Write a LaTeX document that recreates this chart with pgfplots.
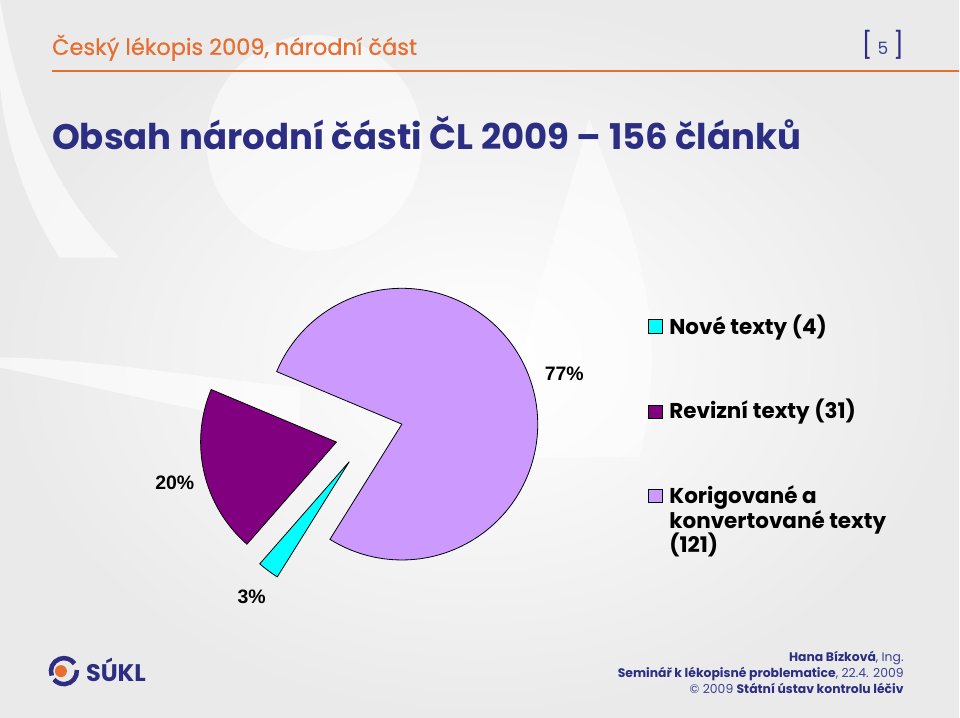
\documentclass[border=0pt]{standalone}
\usepackage{fontspec}
\setmainfont{Poppins}
\newfontfamily\arial{Liberation Sans}
\usepackage{pgfplots}
\usepackage{pgfplotstable}
\pgfplotsset{compat=1.18}

\definecolor{navy}{RGB}{43,46,131}
\definecolor{navylight}{RGB}{60,64,150}
\definecolor{orng}{RGB}{230,110,48}
\definecolor{sCyan}{RGB}{0,255,255}
\definecolor{sPurple}{RGB}{128,0,128}
\definecolor{sLilac}{RGB}{204,153,255}
\definecolor{bggray}{RGB}{234,234,234}

% slice values (number of articles)
\pgfplotstableread{
name value
Nove 4
Revizni 31
Korigovane 121
}\piedata
\pgfplotstablegetelem{0}{value}\of\piedata \let\vA\pgfplotsretval
\pgfplotstablegetelem{1}{value}\of\piedata \let\vB\pgfplotsretval
\pgfplotstablegetelem{2}{value}\of\piedata \let\vC\pgfplotsretval
\pgfmathsetmacro\tot{\vA+\vB+\vC}
\pgfmathsetmacro\aZ{238}
\pgfmathsetmacro\aA{\aZ-(\vA/\tot)*360}
\pgfmathsetmacro\aB{\aA-(\vB/\tot)*360}
\pgfmathsetmacro\aC{\aB-(\vC/\tot)*360}
\pgfmathsetmacro\mA{(\aZ+\aA)/2}
\pgfmathsetmacro\mB{(\aA+\aB)/2}
\pgfmathsetmacro\mC{(\aB+\aC)/2}

\begin{document}
\begin{tikzpicture}
\begin{axis}[
  x=1pt, y=1pt, scale only axis,
  xmin=0, xmax=960, ymin=0, ymax=718,
  enlargelimits=false, hide axis, clip=false,
]
% background
\shade[inner color=white, outer color=bggray] (axis cs:0,0) rectangle (axis cs:960,718);
\fill[white, opacity=0.55] (axis cs:315,575) circle[radius=108pt];
\fill[white, opacity=0.5] (axis cs:590,600) .. controls (axis cs:615,520) and (axis cs:680,420) .. (axis cs:640,260) -- (axis cs:500,260) .. controls (axis cs:530,420) and (axis cs:570,520) .. cycle;
\fill[white, opacity=0.6] (axis cs:0,718) .. controls (axis cs:20,600) and (axis cs:60,520) .. (axis cs:120,460) -- (axis cs:60,460) .. controls (axis cs:20,520) and (axis cs:0,600) .. (axis cs:0,640) -- cycle;
\fill[white, opacity=0.6] (axis cs:0,350) .. controls (axis cs:100,330) and (axis cs:220,300) .. (axis cs:300,290) -- (axis cs:300,330) .. controls (axis cs:200,340) and (axis cs:80,360) .. (axis cs:0,360) -- cycle;

% header
\node[anchor=base west, text=orng, font=\fontsize{22.5}{26}\selectfont\addfontfeatures{FakeBold=0.6}, inner sep=0pt] at (axis cs:52,663) {Český lékopis 2009, národní část};
\draw[orng, line width=2.5pt] (axis cs:52,647) -- (axis cs:960,647);
\node[anchor=base, text=navy, font=\fontsize{26}{30}\selectfont, inner sep=0pt] at (axis cs:884,663) {[\hspace{5pt}{\color{navylight}\fontsize{17}{20}\selectfont 5}\hspace{5pt}]};

% title
\node[anchor=base west, text=navy, font=\fontsize{35.5}{40}\selectfont\bfseries, inner sep=0pt] at (axis cs:52,568) {Obsah národní části ČL 2009 – 156 článků};

% pie slices (exploded)
\filldraw[fill=sCyan, draw=black, line width=0.8pt] (axis cs:370,283) ++(\mA:34pt) -- ++(\aZ:136pt) arc[start angle=\aZ, end angle=\aA, radius=136pt] -- cycle;
\filldraw[fill=sPurple, draw=black, line width=0.8pt] (axis cs:370,283) ++(\mB:34pt) -- ++(\aA:136pt) arc[start angle=\aA, end angle=\aB, radius=136pt] -- cycle;
\filldraw[fill=sLilac, draw=black, line width=0.8pt] (axis cs:370,283) ++(\mC:34pt) -- ++(\aB:136pt) arc[start angle=\aB, end angle=\aC, radius=136pt] -- cycle;

% percentage labels
\node[font=\arial\fontsize{19.5}{22}\selectfont\bfseries, inner sep=0pt] at (axis cs:565,344) {77\%};
\node[font=\arial\fontsize{19.5}{22}\selectfont\bfseries, inner sep=0pt] at (axis cs:175,235) {20\%};
\node[font=\arial\fontsize{19.5}{22}\selectfont\bfseries, inner sep=0pt] at (axis cs:252,120) {3\%};

% legend
\filldraw[fill=sCyan, draw=black, line width=0.7pt] (axis cs:649,384) rectangle (axis cs:663,398);
\filldraw[fill=sPurple, draw=black, line width=0.7pt] (axis cs:649,299) rectangle (axis cs:663,312);
\filldraw[fill=sLilac, draw=black, line width=0.7pt] (axis cs:649,215) rectangle (axis cs:663,228);
\node[anchor=base west, font=\fontsize{21.5}{25}\selectfont\bfseries, inner sep=0pt] at (axis cs:670,383) {Nové texty (4)};
\node[anchor=base west, font=\fontsize{21.5}{25}\selectfont\bfseries, inner sep=0pt] at (axis cs:670,299) {Revizní texty (31)};
\node[anchor=base west, font=\fontsize{21.5}{25}\selectfont\bfseries, inner sep=0pt] at (axis cs:670,214) {Korigované a};
\node[anchor=base west, font=\fontsize{21.5}{25}\selectfont\bfseries, inner sep=0pt] at (axis cs:670,189) {konvertované texty};
\node[anchor=base west, font=\fontsize{21.5}{25}\selectfont\bfseries, inner sep=0pt] at (axis cs:670,165) {(121)};

% footer logo
\draw[navy, line width=4.5pt] (axis cs:64,46) ++(200:13pt) arc[start angle=200, end angle=35, radius=13pt];
\draw[navy, line width=4.5pt] (axis cs:64,46) ++(5:13pt) arc[start angle=5, end angle=-140, radius=13pt];
\fill[orng] (axis cs:61,46) circle[radius=6pt];
\node[anchor=base west, text=navy, font=\fontsize{24}{26}\selectfont\bfseries, inner sep=0pt] at (axis cs:86,36) {SÚKL};

% footer text
\node[anchor=base east, text=navylight, font=\fontsize{12.4}{15}\selectfont, inner sep=0pt] at (axis cs:905,56) {\textbf{\color{navy}Hana Bízková}, Ing.};
\node[anchor=base east, text=navylight, font=\fontsize{12.4}{15}\selectfont, inner sep=0pt] at (axis cs:905,40) {\textbf{\color{navy}Seminář k lékopisné problematice}, 22.4. 2009};
\node[anchor=base east, text=navylight, font=\fontsize{12.4}{15}\selectfont, inner sep=0pt] at (axis cs:905,24) {© 2009 \textbf{\color{navy}Státní ústav kontrolu léčiv}};
\end{axis}
\end{tikzpicture}
\end{document}
